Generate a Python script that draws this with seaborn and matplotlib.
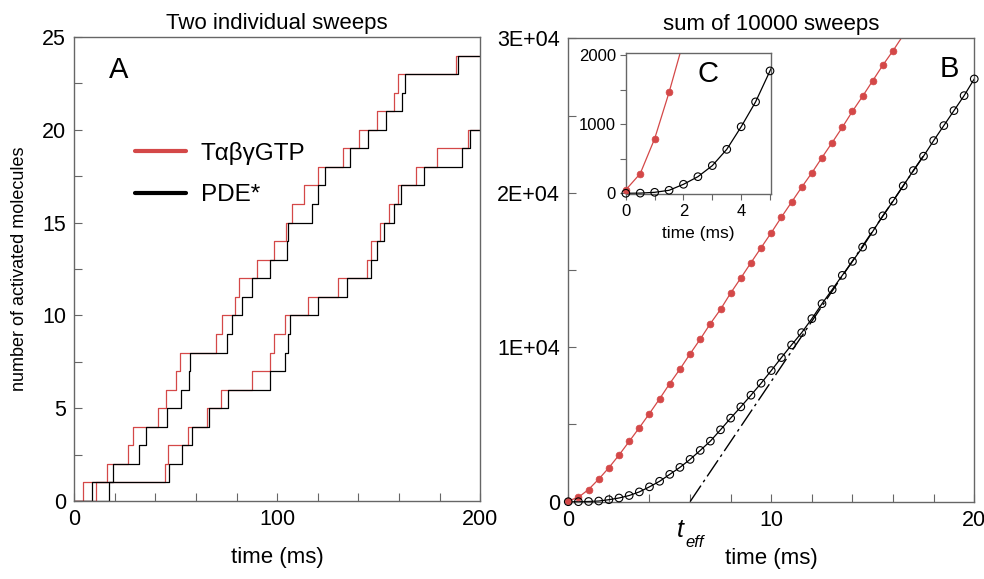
import numpy as np
import pandas as pd
import matplotlib
matplotlib.use("Agg")
import matplotlib.pyplot as plt
import seaborn as sns
from matplotlib.ticker import MultipleLocator, FixedLocator, FuncFormatter
from matplotlib.lines import Line2D
import matplotlib.transforms as mtransforms

# ---------------- data ----------------
# Panel A: times (ms) at which the count of activated molecules increments by one
sweep1_gtp_times = [4.1, 16.3, 26.3, 29.1, 41.1, 45.3, 50.1, 52.2, 69.6, 72.9, 79.0, 81.1,
                    89.8, 98.4, 104.3, 107.1, 113.2, 120.2, 132.2, 140.4, 149.1, 157.5, 159.6, 188.0]
sweep1_pde_times = [8.6, 18.9, 32.0, 35.3, 45.8, 52.6, 56.3, 56.8, 75.4, 77.5, 82.6, 87.4,
                    96.4, 104.6, 105.4, 116.9, 120.2, 123.7, 135.8, 144.5, 153.4, 161.3, 162.9, 189.2]
sweep2_gtp_times = [10.7, 44.9, 46.3, 55.8, 65.2, 72.3, 87.7, 96.4, 98.4, 103.8, 115.0, 129.8,
                    144.0, 146.0, 150.6, 155.2, 159.6, 168.2, 178.8, 194.1]
sweep2_pde_times = [17.2, 46.6, 53.3, 58.1, 66.6, 75.9, 96.4, 103.8, 105.5, 106.3, 120.2, 134.5,
                    146.0, 149.0, 152.6, 157.5, 160.8, 172.4, 190.8, 194.9]
sweep_end_time = 200.0

# Panel B / C: sum of 10000 sweeps, sampled every 0.5 ms
gtp_sum_time = [0.0, 0.5, 1.0, 1.5, 2.0, 2.5, 3.0, 3.5, 4.0, 4.5, 5.0, 5.5, 6.0, 6.5, 7.0, 7.5,
                8.0, 8.5, 9.0, 9.5, 10.0, 10.5, 11.0, 11.5, 12.0, 12.5, 13.0, 13.5, 14.0, 14.5,
                15.0, 15.5, 16.0, 16.5]
gtp_sum_value = [50, 285, 790, 1460, 2200, 3020, 3900, 4790, 5710, 6660, 7650, 8580, 9570, 10520,
                 11530, 12450, 13510, 14480, 15475, 16445, 17414, 18423, 19393, 20362, 21290,
                 22282, 23250, 24240, 25280, 26250, 27260, 28270, 29200, 30200]
pde_sum_time = [0.0, 0.5, 1.0, 1.5, 2.0, 2.5, 3.0, 3.5, 4.0, 4.5, 5.0, 5.5, 6.0, 6.5, 7.0, 7.5,
                8.0, 8.5, 9.0, 9.5, 10.0, 10.5, 11.0, 11.5, 12.0, 12.5, 13.0, 13.5, 14.0, 14.5,
                15.0, 15.5, 16.0, 16.5, 17.0, 17.5, 18.0, 18.5, 19.0, 19.5, 20.0]
pde_sum_value = [0, 2, 14, 43, 130, 240, 400, 635, 962, 1322, 1770, 2221, 2739, 3320, 3922, 4655,
                 5410, 6140, 6895, 7670, 8490, 9330, 10150, 10945, 11850, 12820, 13730, 14654,
                 15560, 16484, 17500, 18510, 19460, 20450, 21440, 22370, 23380, 24350, 25320,
                 26290, 27370]
# linear asymptote of PDE* sum, crossing zero at t_eff
asym_time = [6.0, 17.5]
asym_value = [0, 22400]

legend_labels = ["TαβγGTP", "PDE*"]

RED = "#d44848"
SPINE = "#666666"

# ---------------- style ----------------
sns.set_style("ticks")
plt.rcParams["font.family"] = ["Liberation Sans", "DejaVu Sans"]
plt.rcParams["axes.edgecolor"] = SPINE
plt.rcParams["axes.linewidth"] = 1.0
plt.rcParams["text.color"] = "black"
plt.rcParams["axes.labelcolor"] = "black"
plt.rcParams["axes.titlecolor"] = "black"

fig = plt.figure(figsize=(9.84, 5.79), dpi=100)
axA = fig.add_axes([0.0755, 0.1347, 0.4126, 0.8014])
axB = fig.add_axes([0.5775, 0.1335, 0.4126, 0.8003])

# ---------------- panel A ----------------
rows = []
for sweep, species, times in [(1, "gtp", sweep1_gtp_times), (2, "gtp", sweep2_gtp_times),
                              (1, "pde", sweep1_pde_times), (2, "pde", sweep2_pde_times)]:
    xs = [0.0] + list(times) + [sweep_end_time]
    ys = list(range(len(times) + 1)) + [len(times)]
    for x, y in zip(xs, ys):
        rows.append({"time": x, "count": y, "species": species, "sweep": sweep})
dfA = pd.DataFrame(rows)

sns.lineplot(data=dfA, x="time", y="count", hue="species", units="sweep", estimator=None,
             palette={"gtp": RED, "pde": "black"}, hue_order=["gtp", "pde"],
             drawstyle="steps-post", linewidth=0.9, legend=False, ax=axA, sort=False)

axA.set_xlim(0, 200)
axA.set_ylim(0, 25)
axA.xaxis.set_major_locator(FixedLocator([0, 100, 200]))
axA.xaxis.set_minor_locator(MultipleLocator(20))
axA.yaxis.set_major_locator(MultipleLocator(5))
axA.yaxis.set_minor_locator(MultipleLocator(2.5))
axA.tick_params(which="both", direction="in", length=6, width=0.8, color=SPINE,
                labelcolor="black", labelsize=15.5, pad=6, top=False, right=False)
axA.set_xlabel("time (ms)", fontsize=16, labelpad=12)
axA.set_ylabel("number of activated molecules", fontsize=13, labelpad=10)
axA.set_title("Two individual sweeps", fontsize=16, pad=6)
axA.text(0.108, 0.929, "A", transform=axA.transAxes, fontsize=21, ha="center", va="center")

handles = [Line2D([], [], color=RED, lw=3), Line2D([], [], color="black", lw=3)]
axA.legend(handles, legend_labels, loc="upper left",
           bbox_to_anchor=(0.12, 0.80), frameon=False, fontsize=17.5, borderpad=0,
           handlelength=2.1, handletextpad=0.6, labelspacing=0.8)

# ---------------- panel B ----------------
dfG = pd.DataFrame({"time": gtp_sum_time, "value": gtp_sum_value})
dfP = pd.DataFrame({"time": pde_sum_time, "value": pde_sum_value})
dfT = pd.DataFrame({"time": asym_time, "value": asym_value})


def draw_sums(ax, ymax, mk):
    sns.lineplot(data=dfG, x="time", y="value", color=RED, linewidth=0.9, ax=ax)
    sns.lineplot(data=dfP, x="time", y="value", color="black", linewidth=0.9, ax=ax)
    g = dfG[dfG["value"] <= ymax]
    p = dfP[dfP["value"] <= ymax]
    sns.scatterplot(data=g, x="time", y="value", color=RED, s=mk, edgecolor=RED,
                    linewidth=0.5, ax=ax, clip_on=False, zorder=3)
    sns.scatterplot(data=p, x="time", y="value", facecolor="none", edgecolor="black",
                    s=mk * 1.25, linewidth=0.8, ax=ax, clip_on=False, zorder=3)


draw_sums(axB, 30000, 24)
sns.lineplot(data=dfT, x="time", y="value", color="black", linewidth=1.0, ax=axB,
             dashes=False, linestyle=(0, (14, 3, 2, 3)))

axB.set_xlim(0, 20)
axB.set_ylim(0, 30000)
axB.xaxis.set_major_locator(MultipleLocator(10))
axB.xaxis.set_minor_locator(MultipleLocator(2))
axB.yaxis.set_major_locator(MultipleLocator(10000))
axB.yaxis.set_minor_locator(MultipleLocator(5000))
axB.yaxis.set_major_formatter(FuncFormatter(lambda v, p: "0" if v == 0 else f"{v:.0E}"))
axB.tick_params(which="both", direction="in", length=6, width=0.8, color=SPINE,
                labelcolor="black", labelsize=15.5, pad=6, top=False, right=False)
axB.set_xlabel("time (ms)", fontsize=16, labelpad=12)
axB.set_ylabel("")
axB.set_title("sum of 10000 sweeps", fontsize=16, pad=6)
axB.text(0.938, 0.934, "B", transform=axB.transAxes, fontsize=21, ha="center", va="center")

tr = mtransforms.blended_transform_factory(axB.transData, axB.transAxes)
axB.text(5.35, -0.076, "t", transform=tr, fontsize=18, style="italic", ha="left", va="baseline")
axB.text(5.75, -0.098, "eff", transform=tr, fontsize=12, style="italic", ha="left", va="baseline")

# ---------------- inset C ----------------
axC = fig.add_axes([0.636, 0.665, 0.1474, 0.243])
draw_sums(axC, 2025, 24)
axC.set_xlim(0, 5.03)
axC.set_ylim(-10, 2025)
axC.xaxis.set_major_locator(MultipleLocator(2))
axC.xaxis.set_minor_locator(MultipleLocator(1))
axC.yaxis.set_major_locator(MultipleLocator(1000))
axC.yaxis.set_minor_locator(MultipleLocator(500))
axC.tick_params(which="both", direction="out", length=4, width=0.8, color=SPINE,
                labelcolor="black", labelsize=12, pad=3, top=False, right=False)
axC.set_xlabel("time (ms)", fontsize=12.5, labelpad=5)
axC.set_ylabel("")
axC.text(0.568, 0.853, "C", transform=axC.transAxes, fontsize=21, ha="center", va="center")

fig.savefig("out.png", dpi=100)
